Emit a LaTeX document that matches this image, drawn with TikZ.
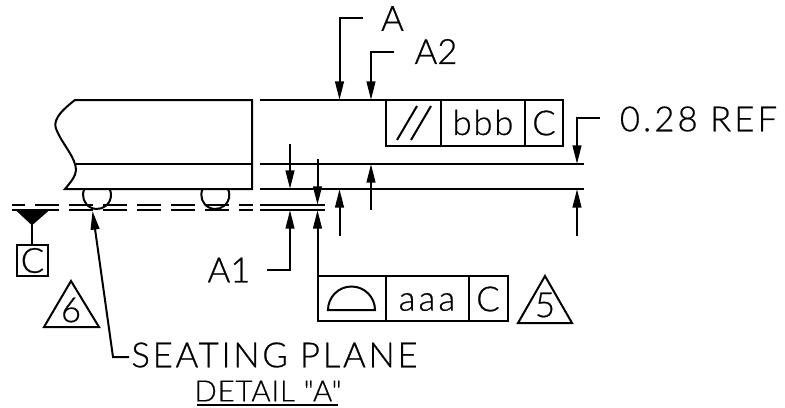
\documentclass[tikz,border=0pt]{standalone}
\usepackage{fontspec}
\usetikzlibrary{arrows.meta}
\newfontfamily\cadfont[UprightFont=* Light,FakeBold=0.6]{Lato}
\tikzset{every picture/.style={line width=1.5pt}}
\tikzset{dimarrow/.style={-{Triangle[length=14pt,width=6.5pt]}}}
\tikzset{dashrow/.style={dash pattern=on 18pt off 7.5pt,dash phase=8.25pt}}
\tikzset{cadlabel/.style={inner sep=0pt,font=\cadfont\fontsize{26}{26}\selectfont}}
\tikzset{smalllabel/.style={inner sep=0pt,font=\cadfont\fontsize{22}{22}\selectfont}}

\begin{document}
\begin{tikzpicture}[x=0.75pt,y=0.75pt,yscale=-1,xscale=1]
    \useasboundingbox (0,0) rectangle (785,407);
    %Package outline
    \draw    (252,100) -- (75,100) .. controls (58,113) and (52,122) .. (57,131) .. controls (63,145) and (76,158) .. (76,170) .. controls (76,176) and (70,183) .. (65,189) -- (252,189) -- cycle ;
    %Straight Lines
    \draw    (76,164) -- (252,164) ;
    %Balls
    \draw    (84.35,189) arc (205.4:-25.4:14) ;
    \draw    (202.65,189) arc (205.4:-25.4:14) ;
    %Seating plane, dashed
    \draw [dashrow]   (12,205) -- (253,205) ;
    \draw [dashrow]   (12,210) -- (253,210) ;
    \draw    (260,205) -- (325,205) ;
    \draw    (260,210) -- (325,210) ;
    %Datum C
    \draw [fill=black]   (17,210) -- (48,210) -- (32,224) -- cycle ;
    \draw    (32,224) -- (32,245) ;
    \draw    (17,245) rectangle (48,276) ;
    %Triangle 6
    \draw    (71,281) -- (99,327) -- (44,327) -- cycle ;
    %Seating plane leader
    \draw [dimarrow]   (129,357) -- (113,357) -- (92.5,211) ;
    %Extension lines
    \draw    (260,100) -- (386,100) ;
    \draw    (260,164) -- (584,164) ;
    \draw    (260,189) -- (584,189) ;
    %Leaders A and A2
    \draw [dimarrow]   (363,18) -- (339.5,18) -- (339.5,100) ;
    \draw [dimarrow]   (394,51.5) -- (371,51.5) -- (371,100) ;
    %Frame bbb
    \draw    (386,100) rectangle (563,146) ;
    \draw    (441,100) -- (441,146) ;
    \draw    (525,100) -- (525,146) ;
    \draw    (397,140) -- (417,106) ;
    \draw    (411,140) -- (431,106) ;
    %Dimension 0.28 REF
    \draw [dimarrow]   (600,118) -- (577,118) -- (577,164) ;
    \draw [dimarrow]   (577,236) -- (577,189) ;
    %Other dimension arrows
    \draw [dimarrow]   (290,144) -- (290,189) ;
    \draw [dimarrow]   (317.5,159) -- (317.5,205) ;
    \draw [dimarrow]   (339.5,236) -- (339.5,189) ;
    \draw [dimarrow]   (371,210) -- (371,164) ;
    \draw [dimarrow]   (267,269.5) -- (290,269.5) -- (290,210) ;
    \draw [dimarrow]   (317.5,276) -- (317.5,210) ;
    %Frame aaa
    \draw    (317.5,276) rectangle (507.5,321) ;
    \draw    (385.5,276) -- (385.5,321) ;
    \draw    (469,276) -- (469,321) ;
    \draw    (328,310) arc (180:360:23.5) -- cycle ;
    %Triangle 5
    \draw    (545,276) -- (572,323) -- (518,323) -- cycle ;
    %Underline
    \draw    (197,405) -- (338,405) ;
    % Text Node
    \node (lblA) [cadlabel] at (392.5,18.5) {A};
    \node (lblAtwo) [cadlabel] at (436,51.5) {A2};
    \node (lblAone) [cadlabel] at (229,270) {A1};
    \node (lblRef) [cadlabel] at (698.5,119) {\addfontfeature{LetterSpace=9}0.28 REF};
    \node (lblBbb) [cadlabel] at (483,122.5) {\addfontfeature{LetterSpace=5}bbb};
    \node (lblCtop) [cadlabel] at (544,123) {C};
    \node (lblAaa) [cadlabel] at (427,302) {\addfontfeature{LetterSpace=9}aaa};
    \node (lblClow) [cadlabel] at (488,299) {C};
    \node (lblCdatum) [cadlabel] at (32.5,260.5) {C};
    \node (lblFive) [cadlabel] at (545,305) {5};
    \node (lblSix) [cadlabel] at (71,310) {6};
    \node (lblSeating) [cadlabel] at (274.5,355) {\addfontfeature{LetterSpace=8}SEATING PLANE};
    \node (lblDetail) [smalllabel] at (268,391) {\addfontfeature{LetterSpace=3}DETAIL "A"};
\end{tikzpicture}
\end{document}
